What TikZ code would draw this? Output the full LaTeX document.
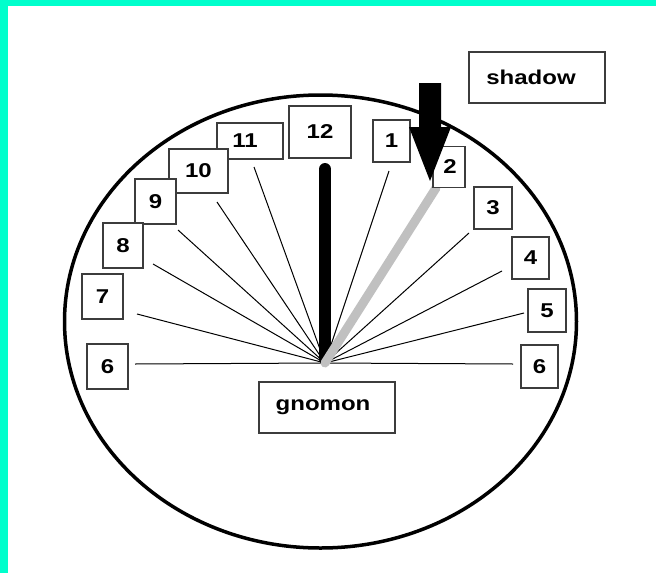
\documentclass[tikz,border=0pt]{standalone}
\usepackage{fontspec}
\setmainfont{Liberation Sans}[FakeStretch=1.2]
\definecolor{bgcyan}{RGB}{0,255,204}
\definecolor{boxline}{RGB}{60,60,60}
\definecolor{shadowgray}{RGB}{192,192,192}
\tikzset{
  lbl/.style={draw=boxline, line width=1.3pt, fill=white, inner sep=0pt,
    font=\fontsize{20}{24}\selectfont\bfseries, text=black},
  ray/.style={line width=1pt, black},
}
\begin{document}
\begin{tikzpicture}[x=1pt,y=-1pt]
\useasboundingbox (0,0) rectangle (656,573);
\fill[bgcyan] (0,0) rectangle (656,573);
\fill[white] (8,6) rectangle (656,573);
% dial
\draw[line width=3.5pt] (320.5,321.5) ellipse [x radius=256, y radius=226.5];
% centre and ray ends
\coordinate (O) at (325,363);
\coordinate (r6l) at (135,364);
\coordinate (r7) at (137,314);
\coordinate (r8) at (153,264);
\coordinate (r9) at (178,230);
\coordinate (r10) at (217,202);
\coordinate (r11) at (254,167);
\coordinate (r1) at (389,171);
\coordinate (r3) at (469,233);
\coordinate (r4) at (502,271);
\coordinate (r5) at (524,313);
\coordinate (r6r) at (513,364);
\foreach \e in {r6l,r7,r8,r9,r10,r11,r1,r3,r4,r5,r6r}
  \draw[ray] (O) -- (\e);
% gnomon and its shadow
\coordinate (gtop) at (325,169);
\coordinate (gbot) at (325,359);
\coordinate (stop) at (436,188);
\draw[line width=12pt, line cap=round] (gtop) -- (gbot);
\draw[shadowgray, line width=9pt, line cap=round] (O) -- (stop);
% labels
\node[lbl, minimum width=136pt, minimum height=51pt] (shadow) at (537,77.5) {\hspace*{-12pt}shadow};
\node[lbl, minimum width=136pt, minimum height=51pt] (gnomon) at (327,407.5) {\hspace*{-8pt}gnomon};
\node[lbl, minimum width=62pt, minimum height=52pt] (h12) at (320,132) {12};
\node[lbl, minimum width=66pt, minimum height=36pt] (h11) at (250,141) {\hspace*{-10pt}11};
\node[lbl, minimum width=59pt, minimum height=44pt] (h10) at (198.5,171) {10};
\node[lbl, minimum width=41pt, minimum height=45pt] (h9) at (155.5,201.5) {9};
\node[lbl, minimum width=40pt, minimum height=45pt] (h8) at (123,245.5) {8};
\node[lbl, minimum width=41pt, minimum height=45pt] (h7) at (102.5,296.5) {7};
\node[lbl, minimum width=41pt, minimum height=45pt] (h6l) at (107.5,366.5) {6};
\node[lbl, minimum width=37pt, minimum height=42pt] (h1) at (391.5,141) {1};
\node[lbl, minimum width=32pt, minimum height=41pt] (h2) at (449,167) {\hspace*{2pt}2};
\node[lbl, minimum width=38pt, minimum height=42pt] (h3) at (493,208) {3};
\node[lbl, minimum width=37pt, minimum height=42pt] (h4) at (530.5,258) {4};
\node[lbl, minimum width=38pt, minimum height=43pt] (h5) at (547,310.5) {5};
\node[lbl, minimum width=37pt, minimum height=43pt] (h6r) at (539.5,366.5) {6};
% shadow arrow
\fill[black] (419,83) -- (441,83) -- (441,127) -- (451,127) -- (430,181)
  -- (409,127) -- (419,127) -- cycle;
\end{tikzpicture}
\end{document}
